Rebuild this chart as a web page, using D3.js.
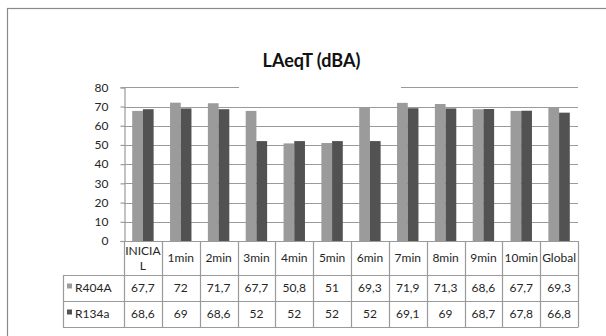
<!DOCTYPE html>
<html>
<head>
<meta charset="utf-8">
<script src="https://cdn.jsdelivr.net/npm/d3@7"></script>
<style>
  html, body { margin: 0; padding: 0; background: #fff; }
  svg { display: block; font-family: Lato, "Open Sans", sans-serif; }
</style>
</head>
<body>
<svg id="chart" width="606" height="336"></svg>
<script>
// Sound level per measurement time, two refrigerants
const categories = ["INICIAL", "1min", "2min", "3min", "4min", "5min", "6min", "7min", "8min", "9min", "10min", "Global"];
const seriesNames = ["R404A", "R134a"];
const r404a = [67.7, 72, 71.7, 67.7, 50.8, 51, 69.3, 71.9, 71.3, 68.6, 67.7, 69.3];
const r134a = [68.6, 69, 68.6, 52, 52, 52, 52, 69.1, 69, 68.7, 67.8, 66.8];
const yTicks = [0, 10, 20, 30, 40, 50, 60, 70, 80];
const chartTitle = "LAeqT (dBA)";

const seriesValues = [r404a, r134a];
const seriesColors = ["#9b9b9b", "#525252"];
const gridColor = "#9a9a9a";
const textColor = "#262626";

const svg = d3.select("#chart");

// outer chart frame (runs past the right and bottom edge of the page)
svg.append("rect")
  .attr("x", 7.5).attr("y", 8.5)
  .attr("width", 640).attr("height", 360)
  .attr("fill", "#fff").attr("stroke", "#8a8a8a").attr("stroke-width", 1.2);

const plot = { left: 124, right: 578, top: 87.3, bottom: 241 };

const x = d3.scaleBand().domain(categories).range([plot.left, plot.right]).padding(0);
const gap = x.bandwidth() * 0.217;
const xs = d3.scaleBand().domain(seriesNames).range([gap, x.bandwidth() - gap]).padding(0);
const y = d3.scaleLinear().domain([0, 80]).range([plot.bottom, plot.top]);

// horizontal gridlines
svg.append("g").selectAll("line").data(yTicks.filter(d => d > 0)).join("line")
  .attr("x1", plot.left).attr("x2", plot.right)
  .attr("y1", d => Math.round(y(d)) + 0.5).attr("y2", d => Math.round(y(d)) + 0.5)
  .attr("stroke", gridColor).attr("stroke-width", 1.2);

// bars
const groups = svg.append("g").selectAll("g").data(categories).join("g")
  .attr("transform", d => `translate(${x(d)},0)`);
groups.selectAll("rect")
  .data((c, i) => seriesNames.map((s, k) => ({ s, v: seriesValues[k][i], k })))
  .join("rect")
  .attr("x", d => xs(d.s))
  .attr("width", xs.bandwidth())
  .attr("y", d => y(d.v))
  .attr("height", d => y(0) - y(d.v))
  .attr("fill", d => seriesColors[d.k]);

// y axis
const yAxis = svg.append("g")
  .attr("transform", `translate(${plot.left + 0.5},0)`)
  .call(d3.axisLeft(y).tickValues(yTicks).tickSize(4).tickPadding(12).tickFormat(d3.format("d")));
yAxis.select(".domain").attr("stroke", gridColor).attr("stroke-width", 1.2);
yAxis.selectAll(".tick line").attr("stroke", gridColor).attr("stroke-width", 1.2);
yAxis.selectAll(".tick text").attr("fill", textColor).attr("font-size", 12)
  .attr("font-family", "Lato, sans-serif");

// title, with its white box covering the top gridline
const titleBox = svg.append("g");
titleBox.append("rect")
  .attr("x", 239).attr("y", 45).attr("width", 162).attr("height", 46)
  .attr("fill", "#fff");
titleBox.append("text")
  .attr("x", 311.5).attr("y", 67)
  .attr("text-anchor", "middle")
  .attr("font-size", 18).attr("font-weight", "bold").attr("fill", "#111")
  .text(chartTitle);

// data table under the plot
const fmt = d3.formatLocale({ decimal: ",", thousands: ".", grouping: [3], currency: ["", ""] }).format(".1~f");
const rowY = [plot.bottom, 275, 301, 327];
const legendLeft = 63;
const table = svg.append("g");

// horizontal rules
rowY.forEach((ry, i) => {
  if (i === 0) {
    table.append("line").attr("x1", plot.left).attr("x2", plot.right)
      .attr("y1", Math.round(ry) + 0.5).attr("y2", Math.round(ry) + 0.5)
      .attr("stroke", gridColor).attr("stroke-width", 1.2);
  } else {
    table.append("line").attr("x1", legendLeft).attr("x2", plot.right)
      .attr("y1", ry + 0.5).attr("y2", ry + 0.5)
      .attr("stroke", gridColor).attr("stroke-width", 1.2);
  }
});
// vertical rules at category edges
const edges = categories.map(c => x(c)).concat([plot.right]);
table.selectAll("line.v").data(edges).join("line").attr("class", "v")
  .attr("x1", d => Math.round(d) + 0.5).attr("x2", d => Math.round(d) + 0.5)
  .attr("y1", plot.bottom).attr("y2", rowY[3] + 0.5)
  .attr("stroke", gridColor).attr("stroke-width", 1.2);
table.append("line")
  .attr("x1", legendLeft + 0.5).attr("x2", legendLeft + 0.5)
  .attr("y1", rowY[1]).attr("y2", rowY[3] + 0.5)
  .attr("stroke", gridColor).attr("stroke-width", 1.2);

// category header cells, wrapping labels that do not fit the cell
const maxLabel = x.bandwidth() - 1;
const header = table.selectAll("text.cat").data(categories).join("text").attr("class", "cat")
  .attr("text-anchor", "middle").attr("font-size", 12).attr("fill", textColor)
  .attr("x", d => x(d) + x.bandwidth() / 2);
header.each(function (d) {
  const t = d3.select(this);
  t.text(d);
  let lines = [d];
  if (this.getComputedTextLength() > maxLabel) {
    let cut = d.length - 1;
    t.text(d.slice(0, cut));
    while (cut > 1 && this.getComputedTextLength() > maxLabel) { cut--; t.text(d.slice(0, cut)); }
    lines = [d.slice(0, cut), d.slice(cut)];
  }
  t.text(null);
  const midY = (rowY[0] + rowY[1]) / 2;
  const lh = 15;
  const startY = midY - (lines.length - 1) * lh / 2 + 4;
  lines.forEach((ln, i) => t.append("tspan").attr("x", x(d) + x.bandwidth() / 2).attr("y", startY + i * lh).text(ln));
});

// series rows: legend key, name and values
seriesNames.forEach((name, k) => {
  const cy = (rowY[k + 1] + rowY[k + 2]) / 2;
  table.append("rect").attr("x", 67).attr("y", cy - 4.5).attr("width", 5).attr("height", 5)
    .attr("fill", seriesColors[k]);
  table.append("text").attr("x", 75).attr("y", cy + 4).attr("font-size", 12).attr("fill", textColor)
    .text(name);
  table.selectAll(null).data(seriesValues[k]).join("text")
    .attr("x", (d, i) => x(categories[i]) + x.bandwidth() / 2)
    .attr("y", cy + 4)
    .attr("text-anchor", "middle").attr("font-size", 12).attr("fill", textColor)
    .text(d => fmt(d));
});
</script>
</body>
</html>
